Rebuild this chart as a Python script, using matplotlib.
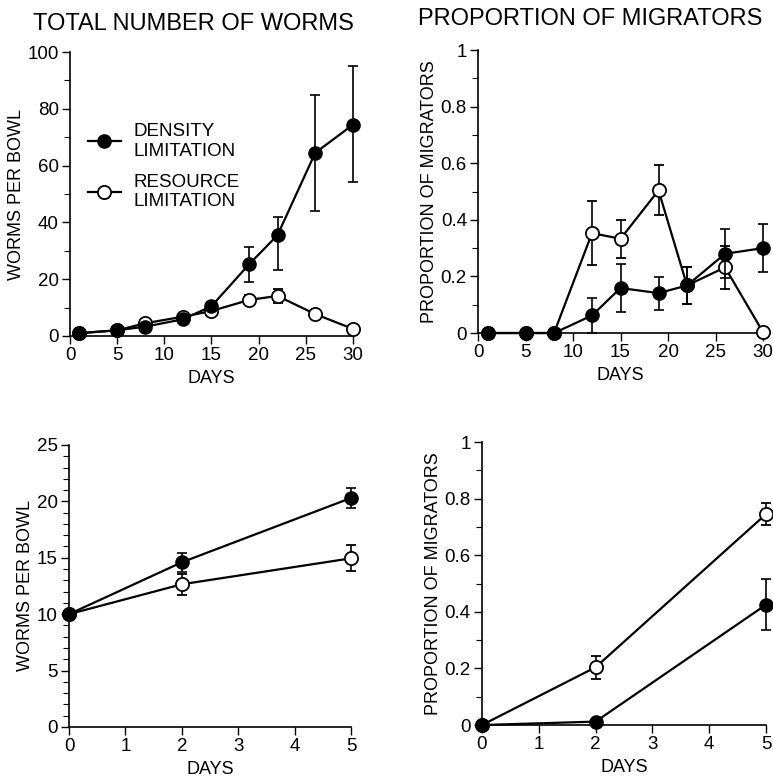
import matplotlib.pyplot as plt
from matplotlib.lines import Line2D
import numpy as np

plt.rcParams['font.family'] = ['Liberation Sans', 'DejaVu Sans']

# top row: days 1..30
days = [1, 5, 8, 12, 15, 19, 22, 26, 30]
dens_worms = [1.0, 2.0, 3.3, 5.9, 10.5, 25.3, 35.5, 64.5, 74.4]
dens_worms_lo = [0, 0, 0, 0, 1.0, 6.3, 12.1, 20.4, 20.2]
dens_worms_hi = [0, 0, 0, 0, 1.6, 5.9, 6.5, 20.3, 20.6]
res_worms = [1.0, 2.0, 4.5, 6.8, 8.8, 12.7, 14.1, 7.7, 2.5]
res_worms_err = [0, 0, 0, 0, 0, 1.8, 2.4, 0, 0]

dens_mig = [0, 0, 0, 0.062, 0.159, 0.141, 0.168, 0.28, 0.30]
dens_mig_err = [0, 0, 0, 0.063, 0.084, 0.058, 0.065, 0.087, 0.085]
res_mig = [0, 0, 0, 0.353, 0.333, 0.504, 0.168, 0.232, 0.003]
res_mig_err = [0, 0, 0, 0.112, 0.067, 0.088, 0.065, 0.077, 0]

# bottom row: days 0..5
days2 = [0, 2, 5]
dens_worms2 = [10.0, 14.6, 20.3]
dens_worms2_err = [0, 0.85, 0.9]
res_worms2 = [10.0, 12.65, 14.95]
res_worms2_err = [0, 0.95, 1.15]

dens_mig2 = [0.0, 0.012, 0.425]
dens_mig2_err = [0, 0, 0.09]
res_mig2 = [0.0, 0.204, 0.745]
res_mig2_err = [0, 0.04, 0.04]

fig = plt.figure(figsize=(7.73, 7.79), dpi=100)

def panel(rect, x, dens, dens_err, res, res_err, xlim, xticks, ylim, yticks, yminor, ylabel, yfmt):
    ax = fig.add_axes(rect)
    kw = dict(color='black', lw=1.6, capsize=3.5, elinewidth=1.2, capthick=1.2,
              ms=9.5, clip_on=False)
    ax.errorbar(x, res, yerr=res_err, fmt='-o', mfc='white', mec='black', mew=1.3,
                zorder=3, **kw)
    ax.errorbar(x, dens, yerr=dens_err, fmt='-o', mfc='black', mec='black',
                zorder=4, **kw)
    ax.set_xlim(*xlim)
    ax.set_ylim(*ylim)
    ax.set_xticks(xticks)
    ax.set_yticks(yticks)
    ax.set_yticks(yminor, minor=True)
    ax.set_yticklabels([yfmt(v) for v in yticks])
    for s in ('top', 'right'):
        ax.spines[s].set_visible(False)
    for s in ('left', 'bottom'):
        ax.spines[s].set_linewidth(1.2)
    ax.tick_params(which='major', length=6, width=1, labelsize=13.5, pad=2)
    ax.tick_params(which='minor', length=4, width=0.8)
    ax.set_xlabel('DAYS', fontsize=13, labelpad=4)
    ax.set_ylabel(ylabel, fontsize=13, labelpad=2)
    return ax

num = lambda v: '%g' % v

ax1 = panel([0.0906, 0.5687, 0.366, 0.3645], days, dens_worms, [dens_worms_lo, dens_worms_hi],
            res_worms, res_worms_err, (0, 30), range(0, 31, 5), (0, 100),
            range(0, 101, 20), range(10, 100, 20), 'WORMS PER BOWL', num)
ax1.set_title('TOTAL NUMBER OF WORMS', fontsize=17, pad=16, x=0.435)
handles = [Line2D([], [], color='black', lw=1.6, marker='o', ms=9.5, mfc='black'),
           Line2D([], [], color='black', lw=1.6, marker='o', ms=9.5, mfc='white', mew=1.3)]
ax1.legend(handles, ['DENSITY\nLIMITATION', 'RESOURCE\nLIMITATION'], frameon=False,
           fontsize=13.5, loc='upper left', bbox_to_anchor=(0.062, 0.75),
           borderpad=0, borderaxespad=0, handlelength=1.8, labelspacing=0.75,
           handletextpad=0.65)

ax2 = panel([0.6184, 0.5725, 0.3687, 0.3633], days, dens_mig, dens_mig_err,
            res_mig, res_mig_err, (0, 30), range(0, 31, 5), (0, 1),
            np.arange(0, 1.01, 0.2), np.arange(0.1, 1, 0.2), 'PROPORTION OF MIGRATORS', num)
ax2.set_title('PROPORTION OF MIGRATORS', fontsize=17, pad=18, x=0.393)

ax3 = panel([0.0893, 0.0668, 0.3648, 0.362], days2, dens_worms2, dens_worms2_err,
            res_worms2, res_worms2_err, (0, 5), range(0, 6), (0, 25),
            range(0, 26, 5), [v for v in range(26) if v % 5], 'WORMS PER BOWL', num)

ax4 = panel([0.6235, 0.0693, 0.3674, 0.3633], days2, dens_mig2, dens_mig2_err,
            res_mig2, res_mig2_err, (0, 5), range(0, 6), (0, 1),
            np.arange(0, 1.01, 0.2), np.arange(0.1, 1, 0.2), 'PROPORTION OF MIGRATORS', num)

fig.savefig('out.png', dpi=100)
